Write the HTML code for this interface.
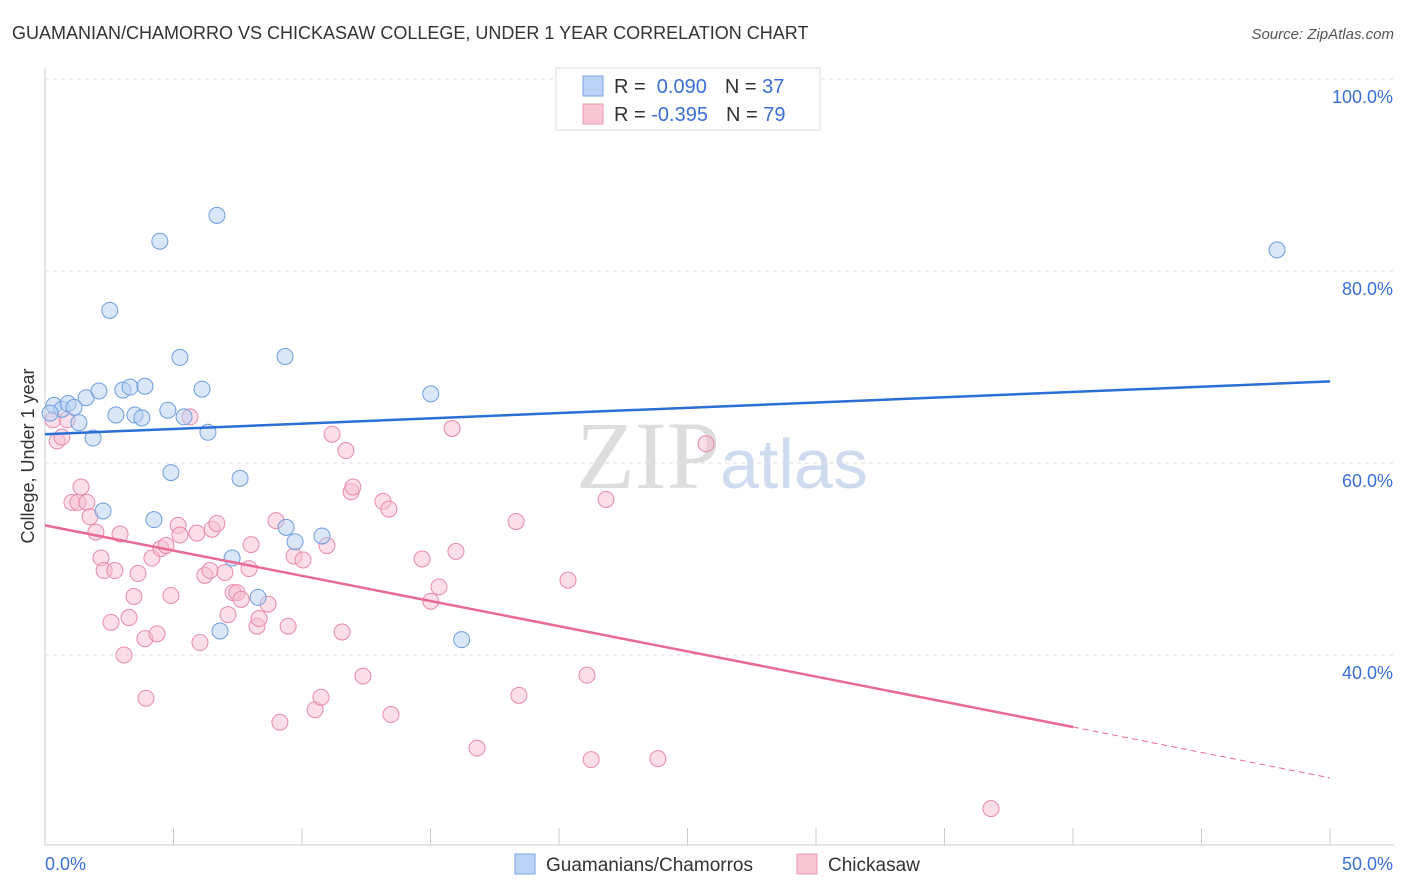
<!DOCTYPE html>
<html><head><meta charset="utf-8"><style>
body{margin:0;background:#fff;font-family:"Liberation Sans",sans-serif;}
svg{display:block}
</style></head><body>
<svg id="c" width="1406" height="892" xmlns="http://www.w3.org/2000/svg">
<text x="12" y="39" font-size="18" fill="#333">GUAMANIAN/CHAMORRO VS CHICKASAW COLLEGE, UNDER 1 YEAR CORRELATION CHART</text>
<text x="1394" y="39" font-size="15" fill="#555" font-style="italic" text-anchor="end">Source: ZipAtlas.com</text>
<text x="720" y="488" font-size="96" fill="#ddd" text-anchor="end" font-family="Liberation Serif">ZIP</text>
<text x="720" y="488" font-size="70" fill="#cfdcf0">atlas</text>
<g id="grid"></g><g id="axes"></g><g id="pts"></g><g id="trend"></g>
<text transform="translate(34,456) rotate(-90)" font-size="18" fill="#333" text-anchor="middle">College, Under 1 year</text>
<text x="45" y="870" font-size="18" fill="#3a6fd8">0.0%</text>
<text x="1393" y="870" font-size="18" fill="#3a6fd8" text-anchor="end">50.0%</text>
<g>
<rect x="556" y="68" width="264" height="62" fill="#fff" stroke="#ddd"/>
<rect x="583" y="76" width="20" height="20" fill="#bcd3f5" stroke="#7aa3e0"/>
<rect x="583" y="104" width="20" height="20" fill="#f9c6d5" stroke="#eb9ab3"/>
<text x="614" y="93" font-size="20" fill="#333">R = <tspan fill="#3a6fd8">&#160;0.090</tspan><tspan dx="18">N = </tspan><tspan fill="#3a6fd8">37</tspan></text>
<text x="614" y="121" font-size="20" fill="#333">R = <tspan fill="#3a6fd8">-0.395</tspan><tspan dx="18">N = </tspan><tspan fill="#3a6fd8">79</tspan></text>
</g>
<g>
<rect x="515" y="854" width="20" height="20" fill="#bcd3f5" stroke="#7aa3e0"/>
<text x="546" y="871" font-size="19" fill="#333">Guamanians/Chamorros</text>
<rect x="797" y="854" width="20" height="20" fill="#f9c6d5" stroke="#eb9ab3"/>
<text x="828" y="871" font-size="19" fill="#333">Chickasaw</text>
</g>
</svg>
<script>
const yTicks=[100,80,60,40];
const yTickLabels=["100.0%","80.0%","60.0%","40.0%"];
const blueX=[0.35,0.66,0.9,1.13,1.32,1.6,1.87,2.1,2.26,2.52,2.76,3.03,3.31,3.5,3.77,3.89,4.24,4.47,4.78,4.9,5.25,5.41,6.11,6.34,6.69,6.81,7.28,7.59,8.29,9.34,9.38,9.73,10.78,15.01,16.21,47.94,0.2];
const blueY=[66.0,65.6,66.2,65.8,64.2,66.8,62.6,67.5,55.0,75.9,65.0,67.6,67.9,65.0,64.7,68.0,54.1,83.1,65.5,59.0,71.0,64.8,67.7,63.2,85.8,42.5,50.1,58.4,46.0,71.1,53.3,51.8,52.4,67.2,41.6,82.2,65.2];
const pinkX=[0.31,0.47,0.66,0.86,1.05,1.28,1.4,1.63,1.75,1.98,2.18,2.3,2.57,2.72,2.92,3.07,3.27,3.46,3.62,3.93,3.89,4.16,4.36,4.51,4.71,4.9,5.18,5.25,5.64,5.91,6.03,6.22,6.42,6.5,6.69,7.0,7.12,7.32,7.47,7.63,8.02,7.94,8.25,8.33,8.68,8.99,9.14,9.46,9.69,10.04,10.51,10.74,10.97,11.17,11.56,11.71,11.91,11.98,12.37,13.15,13.38,13.46,14.67,15.01,15.33,15.84,15.99,16.81,18.33,18.44,20.35,21.09,21.25,21.83,23.85,25.72,36.81];
const pinkY=[64.5,62.3,62.7,64.5,55.9,55.9,57.5,55.9,54.4,52.8,50.1,48.8,43.4,48.8,52.6,40.0,43.9,46.1,48.5,35.5,41.7,50.1,42.2,51.1,51.4,46.2,53.5,52.5,64.8,52.7,41.3,48.3,48.8,53.1,53.7,48.6,44.2,46.5,46.5,45.8,51.5,49.0,43.0,43.8,45.3,54.0,33.0,43.0,50.3,49.9,34.3,35.6,51.4,63.0,42.4,61.3,57.0,57.5,37.8,56.0,55.2,33.8,50.0,45.6,47.1,63.6,50.8,30.3,53.9,35.8,47.8,37.9,29.1,56.2,29.2,62.0,24.0];
const blueTrend=[[0,63.0],[50,68.5]];
const pinkTrend=[[0,53.5],[40,32.5],[50,27.2]];
const X=v=>45+v/50*1285, Y=v=>1039-v*9.6;
const NS="http://www.w3.org/2000/svg";
function mk(p,t,a){const e=document.createElementNS(NS,t);for(const k in a)e.setAttribute(k,a[k]);document.getElementById(p).appendChild(e);return e;}
yTicks.forEach((t,i)=>{
 const g=mk('grid','line',{x1:45,x2:1394,y1:Y(t),y2:Y(t),stroke:'#ddd','stroke-dasharray':'4,4'});
 
 
 const l=mk('grid','text',{x:1393,y:Y(t)+24,'font-size':18,fill:'#3a6fd8','text-anchor':'end'});
 l.textContent=yTickLabels[i];
 
 
});
const ax=mk('axes','path',{d:'M45,68V845H1394',fill:'none',stroke:'#ccc'});


for(let i=0;i<=10;i++){const t=mk('axes','line',{x1:X(i*5),x2:X(i*5),y1:828,y2:845,stroke:'#ccc'});
 
 }
function pts(xs,ys,fill,stroke,name){xs.forEach((x,i)=>{const c=mk('pts','circle',{cx:X(x),cy:Y(ys[i]),r:8,fill:fill,stroke:stroke,'stroke-width':1,'fill-opacity':0.5});
 
 });}
pts(pinkX,pinkY,'#f7bdd0','#e98aaa','chickasaw-point');
pts(blueX,blueY,'#b5cff3','#6f9ddf','guamanian-point');
const bt=mk('trend','line',{x1:X(blueTrend[0][0]),y1:Y(blueTrend[0][1]),x2:X(blueTrend[1][0]),y2:Y(blueTrend[1][1]),stroke:'#2a6fd6','stroke-width':2.5});


const pt=mk('trend','line',{x1:X(pinkTrend[0][0]),y1:Y(pinkTrend[0][1]),x2:X(pinkTrend[1][0]),y2:Y(pinkTrend[1][1]),stroke:'#e86a96','stroke-width':2.5});


const pd=mk('trend','line',{x1:X(pinkTrend[1][0]),y1:Y(pinkTrend[1][1]),x2:X(pinkTrend[2][0]),y2:Y(pinkTrend[2][1]),stroke:'#e86a96','stroke-width':1,'stroke-dasharray':'6,4'});


</script>
</body></html>
